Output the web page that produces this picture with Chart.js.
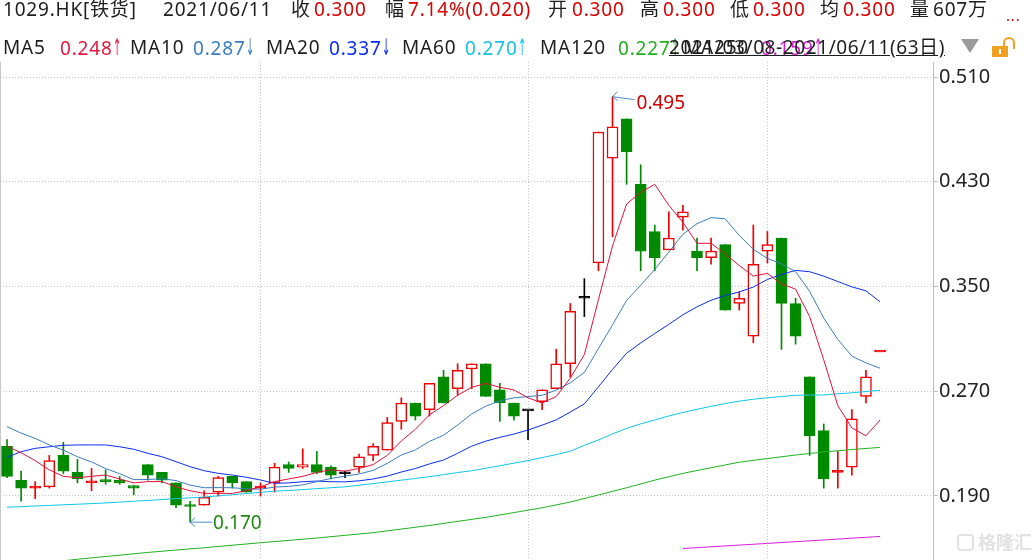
<!DOCTYPE html>
<html><head><meta charset="utf-8">
<script src="https://cdn.jsdelivr.net/npm/chart.js@4.4.0/dist/chart.umd.min.js"></script>
<style>
html,body{margin:0;padding:0;background:#fff;}
#wrap{position:relative;width:1032px;height:560px;overflow:hidden;font-family:"Noto Sans","Noto Sans CJK SC",sans-serif;}
canvas{position:absolute;left:0;top:0;}
.t{position:absolute;white-space:nowrap;font-size:19px;line-height:19px;color:#1e1e1e;letter-spacing:0.8px;}
.r1{top:0px;} .r2{top:38px;}
.red{color:#d80000;}
.ar{display:inline-block;width:8px;font-family:"DejaVu Sans",sans-serif;font-size:23px;line-height:19px;letter-spacing:0;transform:scaleX(0.42);transform-origin:0 50%;}
</style></head><body>
<div id="wrap">
<canvas id="c" width="1032" height="560"></canvas>
<div class="t r1" style="left:3px">1029.HK[铁货]</div>
<div class="t r1" style="left:163px">2021/06/11</div>
<div class="t r1" style="left:291px">收</div><div class="t r1 red" style="left:314px">0.300</div>
<div class="t r1" style="left:385px">幅</div><div class="t r1 red" style="left:408px">7.14%(0.020)</div>
<div class="t r1" style="left:548px">开</div><div class="t r1 red" style="left:572px">0.300</div>
<div class="t r1" style="left:640px">高</div><div class="t r1 red" style="left:663px">0.300</div>
<div class="t r1" style="left:730px">低</div><div class="t r1 red" style="left:753px">0.300</div>
<div class="t r1" style="left:820px">均</div><div class="t r1 red" style="left:843px">0.300</div>
<div class="t r1" style="left:910px">量</div><div class="t r1" style="left:933px">607万</div>
<div class="t r1 red" style="left:1006px;font-size:15px;top:6px;">...</div>

<div class="t r2" style="left:3px">MA5</div><div class="t r2" style="left:60px;color:#e3173e">0.248<span class="ar">↑</span></div>
<div class="t r2" style="left:130px">MA10</div><div class="t r2" style="left:193px;color:#3c7dbd">0.287<span class="ar">↓</span></div>
<div class="t r2" style="left:266px">MA20</div><div class="t r2" style="left:329px;color:#0a2cf5">0.337<span class="ar">↓</span></div>
<div class="t r2" style="left:402px">MA60</div><div class="t r2" style="left:465px;color:#14c3e6">0.270<span class="ar">↑</span></div>
<div class="t r2" style="left:540px">MA120</div><div class="t r2" style="left:618px;color:#20b020">0.227<span class="ar">↑</span></div>
<div class="t r2" style="left:683px">MA250</div><div class="t r2" style="left:761px;color:#d21ed2">0.159<span class="ar">↑</span></div>
<div class="t r2" style="left:669px;text-decoration:underline;letter-spacing:0.6px;">2021/03/08-2021/06/11(63日)</div>
<div style="position:absolute;left:961px;top:39px;width:0;height:0;border-left:9.5px solid transparent;border-right:9.5px solid transparent;border-top:14px solid #9a9a9a;"></div>
<div style="position:absolute;left:1003px;top:37px;width:8px;height:10px;border:2.5px solid #f2a022;border-bottom:none;border-radius:6px 6px 0 0;"></div>
<div style="position:absolute;left:992px;top:46px;width:16px;height:11px;background:#f2a022;"></div>
<div style="position:absolute;left:999px;top:49px;width:2px;height:5px;background:#fff;"></div>

<div style="position:absolute;left:957px;top:534px;width:17px;height:17px;border:2px solid #e2e2e2;border-radius:4px;box-sizing:border-box;"></div>
<div class="t" style="left:978px;top:533px;font-size:18px;color:#e2e2e2;font-weight:bold;letter-spacing:0">格隆汇</div>
</div>
<script>
// ---- data (2021/03/08 - 2021/06/11, 63 trading days) ----
const opens  = [.228,.202,.196,.197,.221,.208,.200,.202,.202,.198, .214,.208,.200,.183,.183,.193,.205,.201,.196,.200,
                .214,.212,.214,.212,.207,.212,.221,.225,.247,.261, .256,.281,.272,.287,.291,.271,.261,.255,.262,.272,
                .291,.341,.368,.448,.478,.428,.392,.378,.403,.377, .372,.382,.337,.312,.377,.387,.337,.281,.240,.208,
                .212,.266,.300];
const highs  = [.233,.209,.201,.221,.231,.218,.211,.210,.205,.198, .214,.208,.200,.186,.194,.205,.205,.201,.200,.215,
                .216,.226,.224,.213,.209,.222,.230,.250,.265,.261, .276,.286,.291,.291,.291,.276,.261,.255,.271,.302,
                .337,.356,.468,.495,.478,.443,.397,.407,.412,.387, .387,.382,.346,.397,.392,.387,.341,.281,.245,.224,
                .256,.286,.300];
const lows   = [.204,.186,.188,.196,.207,.200,.194,.199,.199,.191, .202,.200,.181,.170,.183,.190,.196,.193,.190,.193,
                .208,.211,.207,.203,.204,.208,.217,.225,.241,.248, .251,.261,.267,.272,.266,.247,.248,.233,.256,.272,
                .281,.327,.362,.388,.428,.362,.362,.378,.393,.362, .367,.332,.332,.307,.368,.302,.306,.221,.196,.196,
                .206,.261,.300];
const closes = [.205,.196,.197,.217,.209,.203,.201,.201,.200,.196, .206,.202,.183,.182,.189,.204,.200,.193,.197,.212,
                .211,.214,.208,.206,.207,.220,.228,.246,.261,.251, .276,.261,.286,.291,.266,.261,.251,.255,.271,.291,
                .331,.341,.468,.472,.453,.377,.372,.387,.407,.372, .377,.332,.341,.367,.382,.337,.312,.236,.203,.209,
                .249,.281,.300];
const ma5   = [.228,.223,.217,.210,.205,.204,.205,.206,.203,.200, .201,.201,.197,.194,.192,.192,.192,.194,.197,.201,
               .203,.205,.208,.210,.209,.211,.214,.221,.232,.241, .252,.259,.267,.273,.276,.273,.271,.265,.261,.266,
               .280,.298,.340,.381,.413,.422,.428,.412,.399,.383, .383,.375,.366,.358,.360,.352,.348,.327,.294,.259,
               .242,.236,.248];
const ma10  = [.243,.238,.234,.229,.225,.220,.216,.211,.207,.2025, .2026,.2032,.2018,.1983,.1963,.1964,.1963,.1955,.1952,.1968,
               .1973,.1985,.2010,.2034,.2052,.2068,.2096,.2149,.2213,.2252, .2317,.2364,.2442,.2527,.2586,.2627,.2650,.2659,.2669,.2709,
               .2764,.2844,.3026,.3207,.3394,.3510,.3631,.3763,.3899,.3980, .4026,.4017,.3890,.3785,.3714,.3674,.3614,.3463,.3259,.3096,
               .2968,.2917,.2876];
const ma20  = [.2196,.2238,.2264,.2276,.2287,.2290,.2290,.2290,.2276,.2257, .2226,.2200,.2162,.2124,.2093,.2073,.2060,.2043,.2022,.1997,
               .2000,.2009,.2014,.2009,.2008,.2016,.2030,.2052,.2083,.2110, .2145,.2175,.2226,.2281,.2319,.2348,.2373,.2404,.2441,.2481,
               .2541,.2604,.2734,.2867,.2990,.3069,.3141,.3211,.3284,.3345, .3395,.3431,.3458,.3496,.3554,.3592,.3623,.3613,.3579,.3538,
               .3497,.3467,.3383];
const ma60  = [.1814,.1818,.1824,.1828,.1833,.1837,.1842,.1847,.1853,.1860, .1866,.1873,.1880,.1886,.1892,.1901,.1910,.1919,.1928,.1937,
               .1942,.1949,.1956,.1963,.1970,.1982,.1995,.2008,.2021,.2034, .2048,.2063,.2079,.2093,.2112,.2131,.2151,.2170,.2193,.2216,
               .2242,.2287,.2328,.2374,.2416,.2451,.2481,.2511,.2538,.2562, .2585,.2606,.2624,.2639,.2650,.2660,.2669,.2671,.2671,.2681,
               .2688,.2698,.2707];
const ma120 = [null,null,null,null,.1405,.1417,null,null,null,null, .1469,null,null,null,.1505,null,null,null,.1543,null,
               null,null,.1579,null,null,null,.1620,null,null,null, .1675,null,null,null,.1737,null,null,null,.1810,null,
               .1854,null,.1908,null,.1963,null,.2021,null,.2073,null, .2116,null,.2158,null,.2186,null,.2213,null,.2236,null,
               .2255,null,.2271];
const ma250 = [null,null,null,null,null,null,null,null,null,null, null,null,null,null,null,null,null,null,null,null,
               null,null,null,null,null,null,null,null,null,null, null,null,null,null,null,null,null,null,null,null,
               null,null,null,null,null,null,null,null,.1499,null, .1512,null,.1525,null,.1538,null,.1551,null,.1564,null,
               .1578,null,.1591];
const yTicks = [0.190, 0.270, 0.350, 0.430, 0.510];
const monthStarts = [18, 37, 54];

const RED = '#f00000', GREEN = '#008a00', BLACK = '#000000';
function dir(i) {
  if (closes[i] > opens[i]) return 1;
  if (closes[i] < opens[i]) return -1;
  if (highs[i] === lows[i]) return closes[i] >= closes[i - 1] ? 1 : -1;
  return 0;
}
const candleColor = opens.map((o, i) => { const d = dir(i); return d > 0 ? RED : d < 0 ? GREEN : BLACK; });
const bodyFill = opens.map((o, i) => {
  const d = dir(i);
  if (d > 0) return Math.abs(closes[i] - o) < 0.0015 ? RED : '#ffffff';
  return d < 0 ? GREEN : BLACK;
});
const pts = arr => arr.map((v, i) => ({ x: i, y: v }));
const maLine = (arr, color) => ({
  type: 'line', data: pts(arr), borderColor: color, borderWidth: 1, pointRadius: 0,
  tension: 0, spanGaps: true, order: 0
});

const annot = {
  id: 'annot',
  beforeDatasetsDraw(chart) {
    const { ctx, chartArea } = chart;
    ctx.save();
    ctx.strokeStyle = '#c8c8c8'; ctx.lineWidth = 1;
    ctx.beginPath(); ctx.moveTo(0.5, chartArea.top); ctx.lineTo(0.5, chartArea.bottom); ctx.stroke();
    ctx.restore();
  },
  afterDatasetsDraw(chart) {
    const { ctx, scales: { x, y } } = chart;
    const hi = Math.max(...highs), hiIdx = highs.indexOf(hi);
    const lo = Math.min(...lows), loIdx = lows.indexOf(lo);
    ctx.save();
    ctx.font = '19px "Noto Sans"';
    ctx.lineWidth = 1;
    ctx.strokeStyle = '#4a8fc4';
    let px = x.getPixelForValue(hiIdx), py = y.getPixelForValue(hi);
    ctx.beginPath();
    ctx.moveTo(px + 5, py - 5); ctx.lineTo(px, py); ctx.lineTo(px + 5, py + 4);
    ctx.moveTo(px, py); ctx.lineTo(px + 22, py + 3);
    ctx.stroke();
    ctx.fillStyle = '#d00000';
    ctx.textBaseline = 'alphabetic';
    ctx.fillText(hi.toFixed(3), px + 24, py + 12);
    px = x.getPixelForValue(loIdx); py = y.getPixelForValue(lo);
    ctx.beginPath();
    ctx.moveTo(px + 5, py - 4.5); ctx.lineTo(px, py); ctx.lineTo(px + 5, py + 4.5);
    ctx.moveTo(px, py); ctx.lineTo(px + 22, py);
    ctx.stroke();
    ctx.fillStyle = '#1f8a12';
    ctx.fillText(lo.toFixed(3), px + 23, py + 7);
    ctx.restore();
  }
};

new Chart(document.getElementById('c'), {
  type: 'bar',
  data: {
    datasets: [
      maLine(ma5, '#e0103a'),
      maLine(ma10, '#3a7cbd'),
      maLine(ma20, '#0a2cf5'),
      maLine(ma60, '#10c6e6'),
      maLine(ma120, '#22b022'),
      maLine(ma250, '#d81ed8'),
      {
        type: 'bar', data: opens.map((o, i) => ({ x: i, y: [Math.min(o, closes[i]), Math.max(o, closes[i])] })),
        backgroundColor: bodyFill, borderColor: candleColor, borderWidth: 1.5, borderSkipped: false,
        barThickness: 11, minBarLength: 2, grouped: false, order: 2
      },
      {
        type: 'bar', data: lows.map((l, i) => ({ x: i, y: [l, highs[i]] })),
        backgroundColor: candleColor, borderWidth: 0, barThickness: 1, grouped: false, order: 3
      }
    ]
  },
  options: {
    responsive: false, animation: false, devicePixelRatio: 1,
    layout: { padding: { top: 62, left: 0, right: 0, bottom: 0 }, autoPadding: false },
    plugins: { legend: { display: false }, tooltip: { enabled: false } },
    scales: {
      x: {
        type: 'linear', min: -0.5, max: 65.76, offset: false,
        afterBuildTicks: s => { s.ticks = monthStarts.map(v => ({ value: v })); },
        afterFit: s => { s.height = 0; s.paddingLeft = 0; s.paddingRight = 0; },
        ticks: { display: false },
        grid: { color: '#c4c4c4', lineWidth: 1, drawTicks: false, offset: false },
        border: { display: false, dash: [1, 2] }
      },
      y: {
        position: 'right', min: 0.14112, max: 0.52146,
        afterBuildTicks: s => { s.ticks = yTicks.map(v => ({ value: v })); },
        afterFit: s => { s.width = 99; s.paddingTop = 0; s.paddingBottom = 0; },
        ticks: { callback: v => Number(v).toFixed(3), color: '#222', font: { family: '"Noto Sans"', size: 20 }, padding: 1, autoSkip: false },
        grid: { color: '#c4c4c4', lineWidth: 1, tickLength: 5 },
        border: { display: true, color: '#b8b8b8', width: 1, dash: [1, 2] }
      }
    }
  },
  plugins: [annot]
});
</script>
</body></html>
